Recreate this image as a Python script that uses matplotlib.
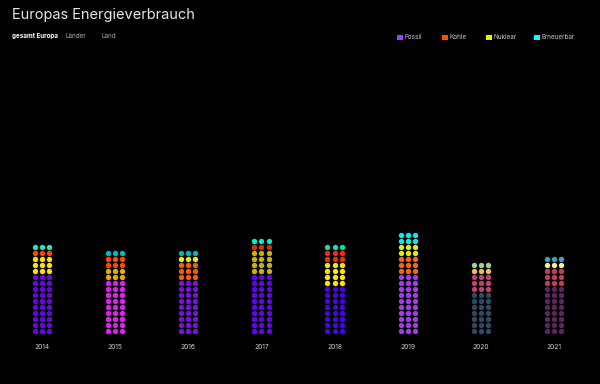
import matplotlib
matplotlib.use("Agg")
import matplotlib.pyplot as plt
from matplotlib.patches import Rectangle

plt.rcParams['font.family'] = ['Inter', 'DejaVu Sans']

years = [2014, 2015, 2016, 2017, 2018, 2019, 2020, 2021]

# dot rows per stacked layer, bottom to top
layer_rows = [
    [10, 9, 9, 10, 8, 10, 7, 8],   # fossil
    [3, 2, 3, 4, 4, 3, 3, 3],
    [1, 2, 1, 1, 2, 2, 1, 1],
    [1, 1, 1, 1, 1, 2, 1, 1],      # erneuerbar
]
layer_colors = [
    ['#6a00f0', '#e01ef0', '#7a10e0', '#6400f8', '#4800f0', '#a838f0', '#2f4a66', '#5e2460'],
    ['#ffe000', '#e0b000', '#ff5a00', '#c8b400', '#ffe400', '#ff6400', '#c0406e', '#c83a5a'],
    ['#ff4400', '#ff4a00', '#e8f000', '#c83800', '#ff2800', '#e0f000', '#f0c040', '#f8f080'],
    ['#20e8c0', '#00b8c8', '#00b8b8', '#00f0c8', '#00e8a8', '#00f0f0', '#a0d098', '#40a0b8'],
]
dots_per_row = 3

legend_labels = ['Fossil', 'Kohle', 'Nuklear', 'Erneuerbar']
legend_colors = ['#a040ff', '#ff5000', '#e8f000', '#00ffff']
tabs = ['gesamt Europa', 'Länder', 'Land']

W, H = 600, 384
fig = plt.figure(figsize=(W / 100, H / 100), dpi=100, facecolor='black')
ax = fig.add_axes([0, 0, 1, 1])
ax.set_facecolor('black')
ax.axis('off')

# scale: 73.14 px per year, 6 px per row
px_year = 73.14
px_row = 6.0
ax.set_xlim(-42 / px_year, (W - 42) / px_year)
ax.set_ylim(-(H - 331) / px_row, 331 / px_row)
col_step = 7.2 / px_year

for i, yr in enumerate(years):
    row = 0
    for layer in range(len(layer_rows)):
        n = layer_rows[layer][i]
        xs, ys = [], []
        for r in range(n):
            for c in range(dots_per_row):
                xs.append(i + (c - 1) * col_step)
                ys.append(row + r)
        ax.scatter(xs, ys, s=15, c=layer_colors[layer][i], linewidths=0)
        row += n
    ax.text(i, -2.6, str(yr), color='#d0d0d0', fontsize=4.8,
            ha='center', va='center')

fig.text(12 / W, 1 - 14.5 / H, 'Europas Energieverbrauch', color='#e6e6e6',
         fontsize=10.5, ha='left', va='center')

tab_x = [12, 66, 101]
for t, x in zip(tabs, tab_x):
    fig.text(x / W, 1 - 36 / H, t, color='white' if x == 12 else '#b0b0b0',
             fontsize=4.5, fontweight='bold' if x == 12 else 'normal',
             ha='left', va='center')

leg_x = [397, 442, 486, 534]
for lab, col, x in zip(legend_labels, legend_colors, leg_x):
    fig.add_artist(Rectangle((x / W, 1 - 40 / H), 5.5 / W, 5.5 / H,
                             transform=fig.transFigure, color=col, lw=0))
    fig.text((x + 7.5) / W, 1 - 37 / H, lab, color='#c8c8c8', fontsize=4.6,
             ha='left', va='center')

fig.savefig('out.png', dpi=100, facecolor='black')
